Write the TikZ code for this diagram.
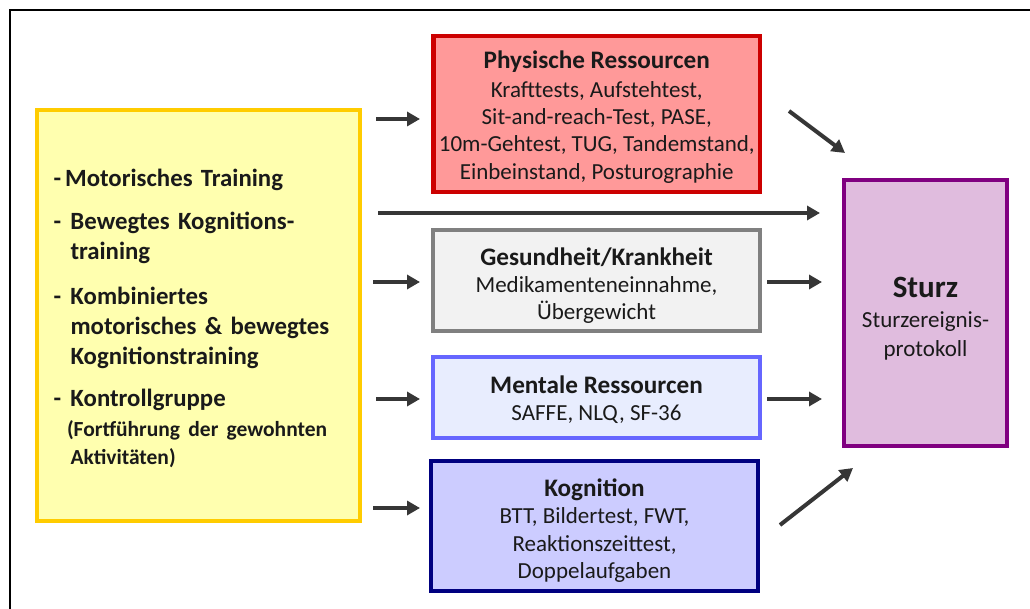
\documentclass[tikz,border=0pt]{standalone}
\usepackage{fontspec}
\setmainfont{Carlito}
\usetikzlibrary{arrows.meta}
\definecolor{arr}{HTML}{363636}
\definecolor{redB}{HTML}{CC0000}\definecolor{redF}{HTML}{FF9999}
\definecolor{grayB}{HTML}{808080}\definecolor{grayF}{HTML}{F2F2F2}
\definecolor{mentB}{HTML}{6666FF}\definecolor{mentF}{HTML}{E8EDFE}
\definecolor{kogB}{HTML}{000080}\definecolor{kogF}{HTML}{CCCCFF}
\definecolor{stB}{HTML}{800080}\definecolor{stF}{HTML}{E0BCDE}
\definecolor{yelB}{HTML}{FFCC00}\definecolor{yelF}{HTML}{FFFFAF}
\definecolor{txt}{HTML}{1A1A1A}
\newcommand{\ttlfont}{\bfseries\fontsize{25.2}{29}\selectfont}
\tikzset{
  box/.style={draw, line width=4.5pt, rectangle, outer sep=0pt, inner sep=0pt},
  boxtext/.style={inner sep=0pt, align=center, text=txt, font=\fontsize{23}{27.3}\selectfont},
  conn/.style={draw=arr, line width=4pt, -{Triangle[length=13pt,width=14pt]}, shorten >=0pt}
}
\begin{document}
\begin{tikzpicture}[x=1pt,y=-1pt]
\useasboundingbox (0,0) rectangle (1030,609);
\fill[white] (0,0) rectangle (1030,609);
\draw[line width=2.5pt,black] (10,609) -- (10,10) -- (1030,10);

% Boxes
\node[box, draw=yelB, fill=yelF, minimum width=323pt, minimum height=411pt] (yel) at (198.5,315.5) {};
\node[box, draw=redB, fill=redF, minimum width=326.5pt, minimum height=156pt] (phys) at (596.75,114) {};
\node[box, draw=grayB, fill=grayF, minimum width=327pt, minimum height=101pt] (ges) at (596.5,280.5) {};
\node[box, draw=mentB, fill=mentF, minimum width=327pt, minimum height=81pt] (ment) at (596.5,397.5) {};
\node[box, draw=kogB, fill=kogF, minimum width=327pt, minimum height=130pt] (kog) at (594.5,526) {};
\node[box, draw=stB, fill=stF, minimum width=163pt, minimum height=266pt] (st) at (925.5,313) {};

% Texts
\node[boxtext, text width=290pt, align=left, font=\fontsize{24.8}{30}\selectfont\bfseries]
  (yelT) at ([yshift=-3pt]yel.center)
{-\hspace{4pt}Motorisches Training\\[13pt]
\makebox[17pt][l]{-}Bewegtes Kognitions-\\
\hspace*{17pt}training\\[15pt]
\makebox[17pt][l]{-}Kombiniertes\\
\hspace*{17pt}motorisches \& bewegtes\\
\hspace*{17pt}Kognitionstraining\\[12pt]
\makebox[17pt][l]{-}Kontrollgruppe\\
{\fontsize{21.5}{28}\selectfont\hspace*{13.5pt}(Fortführung der gewohnten}\\[-2pt]
{\fontsize{21.5}{28}\selectfont\hspace*{17pt}Aktivitäten)}};

\node[boxtext] (physT) at ([yshift=-3pt]phys.center)
{{\ttlfont Physische Ressourcen}\\[1.5pt]
Krafttests, Aufstehtest,\\
Sit-and-reach-Test, PASE,\\
10m-Gehtest, TUG, Tandemstand,\\
Einbeinstand, Posturographie};

\node[boxtext] (gesT) at ([yshift=-5pt]ges.center)
{{\ttlfont Gesundheit/Krankheit}\\
Medikamenteneinnahme,\\
Übergewicht};

\node[boxtext] (mentT) at ([yshift=-2.5pt]ment.center)
{{\ttlfont Mentale Ressourcen}\\
SAFFE, NLQ, SF-36};

\node[boxtext] (kogT) at ([yshift=-4.5pt]kog.center)
{{\ttlfont Kognition}\\
BTT, Bildertest, FWT,\\
Reaktionszeittest,\\
Doppelaufgaben};

\node[boxtext] (stT) at ([yshift=-5.5pt]st.center)
{{\bfseries\fontsize{31}{34}\selectfont Sturz}\\[3pt]
Sturzereignis-\\[1.5pt]
protokoll};

% Arrow coordinates
\coordinate (a1s) at (376,119);  \coordinate (a1e) at (420,119);
\coordinate (a2s) at (378,213);  \coordinate (a2e) at (820,213);
\coordinate (a3s) at (373,282);  \coordinate (a3e) at (420,282);
\coordinate (a4s) at (376,399);  \coordinate (a4e) at (420,399);
\coordinate (a5s) at (373,508);  \coordinate (a5e) at (420,508);
\coordinate (b1s) at (789,111);  \coordinate (b1e) at (845,153);
\coordinate (b2s) at (767,282);  \coordinate (b2e) at (822,282);
\coordinate (b3s) at (767,399);  \coordinate (b3e) at (822,399);
\coordinate (b4s) at (780,525);  \coordinate (b4e) at (853,468);

\draw[conn] (a1s) -- (a1e);
\draw[conn] (a2s) -- (a2e);
\draw[conn] (a3s) -- (a3e);
\draw[conn] (a4s) -- (a4e);
\draw[conn] (a5s) -- (a5e);
\draw[conn] (b1s) -- (b1e);
\draw[conn] (b2s) -- (b2e);
\draw[conn] (b3s) -- (b3e);
\draw[conn] (b4s) -- (b4e);
\end{tikzpicture}
\end{document}
